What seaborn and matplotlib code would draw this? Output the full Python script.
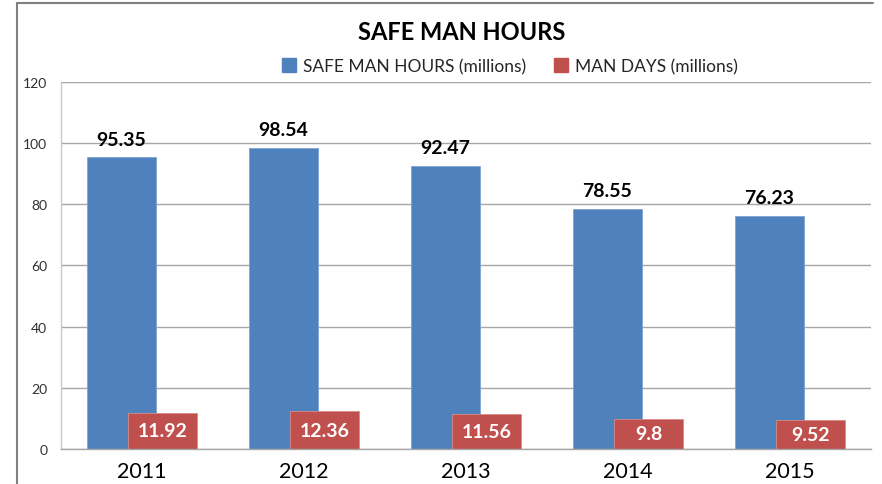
import numpy as np
import pandas as pd
import matplotlib
matplotlib.use('Agg')
import matplotlib.pyplot as plt
from matplotlib.lines import Line2D
from matplotlib.patches import Patch
import seaborn as sns

# Data
years = ['2011', '2012', '2013', '2014', '2015']
safe_man_hours = [95.35, 98.54, 92.47, 78.55, 76.23]
man_days = [11.92, 12.36, 11.56, 9.8, 9.52]

blue = '#4F81BD'
red = '#C0504D'

sns.set_style('white')
plt.rcParams['font.family'] = ['Lato', 'DejaVu Sans']

fig = plt.figure(figsize=(8.82, 4.85), dpi=100)
ax = fig.add_axes([0.0692, 0.0722, 0.9183, 0.7567])

pos = np.arange(len(years))
df = pd.DataFrame({'pos': pos, 'year': years,
                   'hours': safe_man_hours, 'days': man_days})

# overlapping bars: blue shifted left, red shifted right
sns.barplot(x=df.pos - 0.127, y=df.hours, native_scale=True, width=0.425,
            color=blue, saturation=1, edgecolor='#7ea3d3', linewidth=0.6, ax=ax)
sns.barplot(x=df.pos + 0.127, y=df.days, native_scale=True, width=0.425,
            color=red, saturation=1, edgecolor='#d98a88', linewidth=0.6, ax=ax)

# value labels
for x, v in zip(df.pos - 0.127, df.hours):
    ax.annotate(f'{v:g}', (x, v), xytext=(0, 7), textcoords='offset points',
                ha='center', va='bottom', fontsize=14, fontweight='bold',
                color='black')
for x, v in zip(df.pos + 0.127, df.days):
    ax.text(x, v / 2, f'{v:g}', ha='center', va='center', fontsize=14,
            fontweight='bold', color='white')

ax.set_xlim(-0.5, 4.5)
ax.set_ylim(0, 120)
ax.set_yticks(range(0, 121, 20))
ax.set_xticks(pos)
ax.set_xticklabels(years, fontsize=15.5, color='black')
ax.tick_params(axis='y', labelsize=10, labelcolor='#303030', length=0, pad=10)
ax.tick_params(axis='x', length=0, pad=9)
ax.set_xlabel('')
ax.set_ylabel('')
ax.yaxis.grid(True, color='#a6a6a6', linewidth=1)
ax.set_axisbelow(True)
for s in ['top', 'right']:
    ax.spines[s].set_visible(False)
ax.spines['left'].set_color('#c8c8c8')
ax.spines['bottom'].set_color('#a6a6a6')
ax.spines['left'].set_linewidth(1)
ax.spines['bottom'].set_linewidth(1)

fig.text(0.523, 0.932, 'SAFE MAN HOURS', ha='center', va='center',
         fontsize=17, fontweight='bold', color='black')

handles = [Patch(facecolor=blue, edgecolor=blue),
           Patch(facecolor=red, edgecolor=red)]
fig.legend(handles, ['SAFE MAN HOURS (millions)', 'MAN DAYS (millions)'],
           loc='center', bbox_to_anchor=(0.578, 0.862), ncol=2, frameon=False,
           fontsize=12.5, handlelength=0.8, handleheight=0.8,
           handletextpad=0.4, columnspacing=1.6)

# chart frame (left and top edges visible in the screenshot)
fig.add_artist(Line2D([0.0193, 0.0193], [0, 0.9918], transform=fig.transFigure,
                      color='#808080', linewidth=1.5))
fig.add_artist(Line2D([0.0193, 0.99], [0.9918, 0.9918], transform=fig.transFigure,
                      color='#808080', linewidth=1.5))

fig.savefig('out.png', dpi=100, facecolor='white')
